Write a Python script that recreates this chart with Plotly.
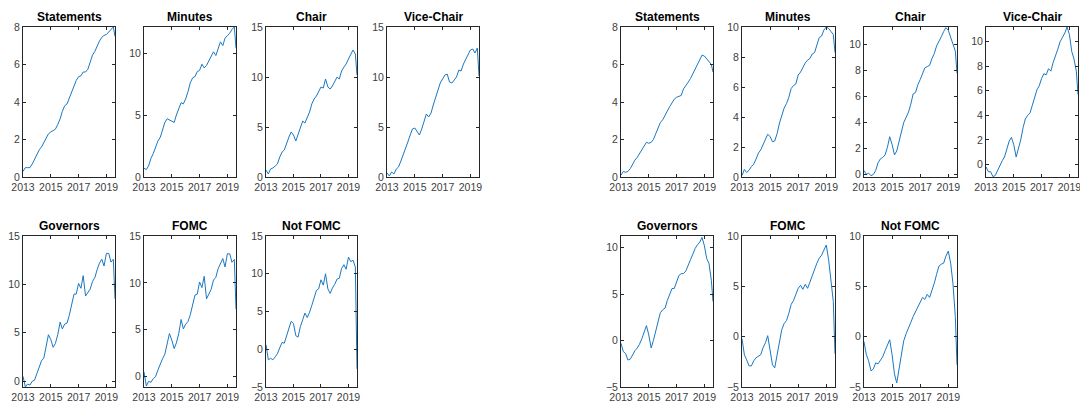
import plotly.graph_objects as go

# time grid (decimal years, bimonthly)
years = [2013.0, 2013.17, 2013.33, 2013.5, 2013.67, 2013.83,
         2014.0, 2014.17, 2014.33, 2014.5, 2014.67, 2014.83,
         2015.0, 2015.17, 2015.33, 2015.5, 2015.67, 2015.83,
         2016.0, 2016.17, 2016.33, 2016.5, 2016.67, 2016.83,
         2017.0, 2017.17, 2017.33, 2017.5, 2017.67, 2017.83,
         2018.0, 2018.17, 2018.33, 2018.5, 2018.67, 2018.83,
         2019.0, 2019.17, 2019.33, 2019.5, 2019.62]

# ---- left panel group ----
L_statements = [0.3, 0.5, 0.5, 0.5, 0.7, 0.95, 1.2, 1.45, 1.6, 1.85, 2.1, 2.3,
                 2.4, 2.5, 2.55, 2.8, 3.1, 3.5, 3.8, 3.9, 4.2, 4.55, 4.9, 5.15,
                 5.35, 5.4, 5.6, 5.6, 5.75, 6.1, 6.5, 6.7, 7.0, 7.25, 7.45, 7.55,
                 7.6, 7.75, 7.85, 8.0, 7.5]
L_minutes = [0.7, 0.6, 0.9, 1.5, 1.9, 2.4, 2.9, 3.2, 3.8, 4.4, 4.7, 4.6,
             4.5, 4.4, 5.0, 5.5, 6.0, 5.9, 6.3, 6.9, 7.6, 8.0, 8.1, 8.5,
             8.6, 9.1, 8.8, 9.0, 9.4, 9.7, 10.1, 9.8, 10.4, 10.9, 10.6, 11.2,
             11.4, 11.6, 11.9, 12.1, 10.4]
L_chair = [0.7, 0.3, 0.8, 0.9, 1.1, 1.3, 2.0, 2.5, 2.7, 3.4, 4.0, 4.5,
           4.2, 3.6, 4.3, 5.0, 5.6, 5.4, 6.0, 6.5, 7.3, 7.8, 8.1, 8.5,
           9.0, 8.9, 9.8, 9.0, 8.8, 9.1, 9.6, 10.0, 9.8, 10.6, 11.0, 11.3,
           11.8, 12.2, 12.7, 12.3, 10.2]
L_vicechair = [0.4, 0.1, 0.5, 0.3, 0.8, 1.0, 1.6, 2.2, 2.8, 3.5, 4.2, 4.8,
               4.9, 4.5, 4.2, 4.8, 5.5, 6.3, 6.0, 6.4, 7.2, 8.0, 8.9, 9.4,
               9.8, 10.2, 10.3, 9.5, 9.4, 9.7, 10.0, 10.7, 10.6, 11.3, 11.8, 12.1,
               12.7, 12.8, 12.4, 12.9, 10.1]
L_governors = [0.5, -0.6, -0.3, -0.4, 0.0, 0.1, 0.8, 1.4, 2.1, 2.4, 3.5, 4.8,
               4.3, 3.5, 3.9, 4.8, 6.1, 5.4, 5.9, 6.0, 6.8, 8.0, 9.0, 9.0,
               10.1, 9.6, 10.9, 8.8, 9.2, 9.5, 10.3, 10.7, 11.5, 12.2, 12.6, 11.9,
               13.2, 13.2, 12.3, 12.6, 8.5]
L_fomc = [0.5, -1.0, -0.5, -0.6, -0.2, 0.0, 0.7, 1.4, 1.9, 2.4, 3.4, 4.6,
          3.9, 3.0, 3.6, 4.6, 6.1, 5.1, 5.6, 5.9, 6.6, 7.7, 8.7, 8.8,
          10.1, 9.5, 10.7, 8.3, 8.8, 9.3, 10.3, 10.6, 11.5, 12.0, 12.6, 11.7,
          13.1, 13.1, 12.2, 12.5, 7.2]
L_notfomc = [0.6, -1.4, -1.2, -1.4, -1.0, -0.6, 0.2, 0.9, 0.8, 1.8, 2.8, 3.7,
             3.4, 1.8, 1.6, 3.0, 3.9, 4.8, 4.2, 4.9, 5.8, 6.8, 7.8, 8.0,
             9.2, 8.5, 10.0, 8.0, 7.4, 8.1, 8.6, 9.3, 9.4, 10.7, 11.2, 10.6,
             12.2, 11.6, 11.8, 10.9, -2.6]

# ---- right panel group ----
R_statements = [0.1, 0.3, 0.25, 0.3, 0.45, 0.7, 0.9, 1.05, 1.25, 1.5, 1.7, 1.85,
                1.8, 1.85, 2.0, 2.3, 2.6, 2.9, 3.05, 3.3, 3.55, 3.75, 3.95, 4.15,
                4.25, 4.3, 4.35, 4.7, 4.85, 5.05, 5.25, 5.5, 5.75, 6.0, 6.2, 6.5,
                6.45, 6.3, 6.2, 6.0, 5.6]
R_minutes = [0.1, 0.5, 0.3, 0.45, 0.7, 0.85, 1.2, 1.6, 1.8, 2.2, 2.6, 2.85,
             2.7, 2.35, 2.4, 2.9, 3.6, 4.1, 4.6, 4.9, 5.3, 5.9, 6.1, 6.2,
             6.8, 7.0, 7.3, 7.6, 7.8, 7.9, 8.2, 8.3, 8.8, 9.3, 9.4, 9.8,
             10.0, 9.9, 9.7, 9.5, 8.3]
R_chair = [0.3, 0.0, 0.1, -0.1, 0.0, 0.3, 0.9, 1.2, 1.3, 1.5, 2.1, 2.9,
           2.3, 1.5, 1.8, 2.6, 3.3, 4.0, 4.4, 4.8, 5.4, 6.2, 6.3, 6.9,
           7.3, 7.7, 8.2, 8.3, 8.4, 8.9, 9.3, 9.9, 10.3, 10.6, 11.0, 11.3,
           11.1, 10.5, 10.1, 9.5, 7.8]
R_vicechair = [-0.2, -0.6, -0.6, -1.0, -0.9, -0.5, -0.1, 0.3, 0.6, 1.2, 1.9, 2.2,
               1.6, 0.6, 1.2, 2.0, 3.0, 3.7, 4.0, 4.2, 4.8, 5.5, 6.1, 6.4,
               7.0, 7.4, 7.3, 7.8, 7.6, 8.3, 8.8, 9.4, 10.0, 10.3, 10.7, 11.2,
               10.6, 9.2, 8.6, 7.6, 5.7]
R_governors = [-0.3, -1.2, -1.4, -2.1, -2.0, -1.5, -1.1, -0.8, -0.4, 0.2, 0.9, 1.6,
               0.6, -0.8, 0.0, 1.0, 2.2, 3.0, 3.3, 3.5, 4.3, 5.0, 5.6, 5.6,
               6.4, 7.0, 7.2, 7.2, 7.5, 8.0, 8.7, 9.3, 9.9, 10.3, 10.6, 11.1,
               10.2, 8.8, 8.3, 6.5, 4.2]
R_fomc = [-0.2, -1.8, -2.3, -2.9, -2.9, -2.4, -2.1, -1.9, -1.8, -1.1, -0.6, 0.1,
          -1.6, -2.8, -3.1, -1.8, -0.6, 0.7, 1.3, 1.6, 2.3, 3.2, 3.6, 4.3,
          4.8, 5.1, 4.7, 5.2, 4.8, 5.4, 6.1, 6.7, 7.3, 7.8, 8.1, 8.6,
          9.1, 7.6, 5.8, 3.5, -1.7]
R_notfomc = [-0.5, -1.8, -2.4, -3.4, -3.2, -2.6, -2.7, -2.4, -2.0, -1.4, -0.8, -0.3,
             -1.8, -3.7, -4.6, -3.2, -1.6, -0.4, 0.3, 0.8, 1.4, 2.0, 2.5, 2.9,
             3.5, 3.9, 3.7, 4.2, 3.9, 4.5, 5.3, 6.2, 7.0, 7.2, 7.3, 8.0,
             8.5, 7.3, 5.3, 2.0, -2.8]

titles = ["Statements", "Minutes", "Chair", "Vice-Chair", "Governors", "FOMC", "Not FOMC"]
x_ticks = [2013, 2015, 2017, 2019]

# panel specs: (series, title, y-range, y-dtick, x-pixel domain, y-pixel domain)
W, H = 1080, 403
top_y, bot_y = (27, 177), (236, 387)
L_cols = [(23, 115), (144, 236), (266, 357), (387, 479)]
R_cols = [(621, 713), (742, 835), (864, 957), (986, 1078)]

panels = [
    (L_statements, titles[0], [0, 8], 2, L_cols[0], top_y),
    (L_minutes, titles[1], [0, 12.1], 5, L_cols[1], top_y),
    (L_chair, titles[2], [0, 15], 5, L_cols[2], top_y),
    (L_vicechair, titles[3], [0, 15], 5, L_cols[3], top_y),
    (L_governors, titles[4], [-0.6, 15], 5, L_cols[0], bot_y),
    (L_fomc, titles[5], [-1.1, 15], 5, L_cols[1], bot_y),
    (L_notfomc, titles[6], [-5, 15], 5, L_cols[2], bot_y),
    (R_statements, titles[0], [0, 8], 2, R_cols[0], top_y),
    (R_minutes, titles[1], [0, 10], 2, R_cols[1], top_y),
    (R_chair, titles[2], [-0.2, 11.35], 2, R_cols[2], top_y),
    (R_vicechair, titles[3], [-1.03, 11.2], 2, R_cols[3], top_y),
    (R_governors, titles[4], [-5, 11.25], 5, R_cols[0], bot_y),
    (R_fomc, titles[5], [-5, 10], 5, R_cols[1], bot_y),
    (R_notfomc, titles[6], [-5, 10], 5, R_cols[2], bot_y),
]

fig = go.Figure()
axis_color = "#262626"
tick_font = dict(family="Liberation Sans, Arial, sans-serif", size=10.5, color="#404040")
annotations = []
for i, (vals, title, yr, dt, xc, yc) in enumerate(panels):
    n = i + 1
    xa = "x" if n == 1 else f"x{n}"
    ya = "y" if n == 1 else f"y{n}"
    fig.add_trace(go.Scatter(x=years, y=vals, mode="lines", xaxis=xa, yaxis=ya,
                             line=dict(color="#1a78c2", width=1), showlegend=False,
                             hoverinfo="skip"))
    xdom = [xc[0] / W, xc[1] / W]
    ydom = [(H - yc[1]) / H, (H - yc[0]) / H]
    common = dict(showgrid=False, zeroline=False, showline=True, linecolor=axis_color,
                  linewidth=1, mirror="ticks", ticks="inside", ticklen=3,
                  tickcolor=axis_color, tickfont=tick_font, tickangle=0,
                  automargin=False, ticklabeloverflow="allow")
    fig.layout[f"xaxis{'' if n == 1 else n}"] = dict(
        domain=xdom, anchor=ya, range=[2013, 2019.62], tickvals=x_ticks,
        ticktext=[str(t) for t in x_ticks], **common)
    fig.layout[f"yaxis{'' if n == 1 else n}"] = dict(
        domain=ydom, anchor=xa, range=yr, dtick=dt, tick0=0, **common)
    annotations.append(dict(text=f"<b>{title}</b>", xref="paper", yref="paper",
                            x=(xdom[0] + xdom[1]) / 2, y=ydom[1], xanchor="center",
                            yanchor="bottom", yshift=1, showarrow=False,
                            font=dict(family="Liberation Sans, Arial, sans-serif",
                                      size=12, color="#000000")))

fig.update_layout(width=W, height=H, margin=dict(l=0, r=0, t=0, b=0),
                  paper_bgcolor="white", plot_bgcolor="white",
                  annotations=annotations)
fig.write_html("out.html")
